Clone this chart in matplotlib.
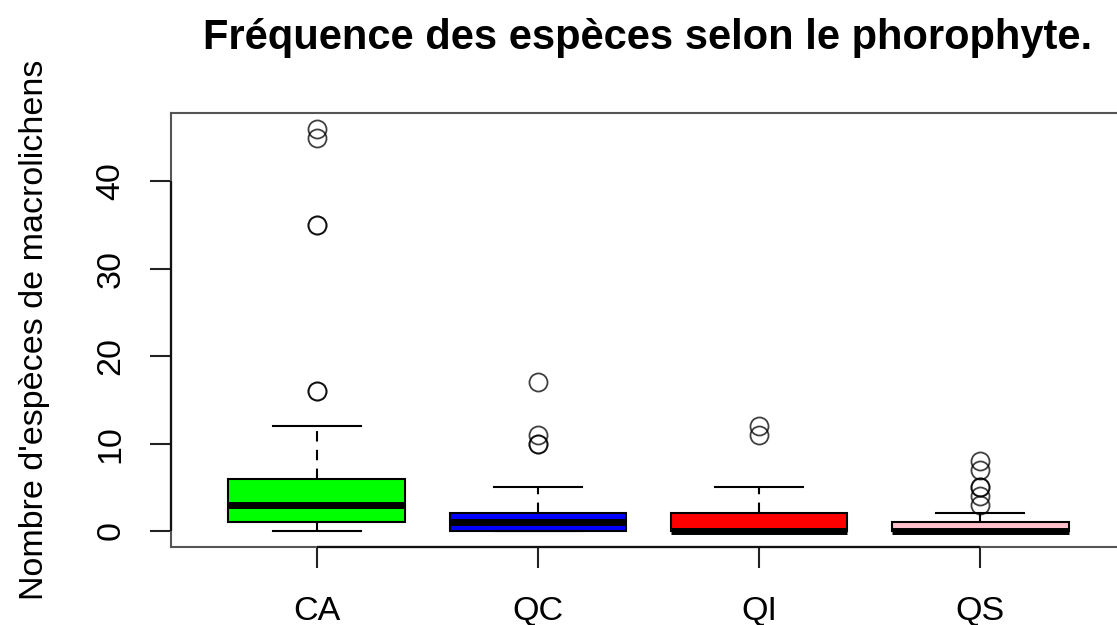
import matplotlib
matplotlib.use("Agg")
import matplotlib.pyplot as plt
import numpy as np

plt.rcParams['font.family'] = ['Liberation Sans', 'DejaVu Sans']

categories = ["CA", "QC", "QI", "QS"]
colors = ["#00ff00", "#0000ff", "#ff0000", "#ffc0cb"]

# five-number summaries per phorophyte: lower whisker, Q1, median, Q3, upper whisker
whislo = [0, 0, 0, 0]
q1 = [1, 0, 0, 0]
med = [3, 1, 0, 0]
q3 = [6, 2, 2, 1]
whishi = [12, 5, 5, 2]
outliers = [
    [16, 16, 35, 35, 45, 46],
    [10, 10, 11, 17],
    [11, 12],
    [3, 4, 5, 5, 7, 8],
]
yticks = [0, 10, 20, 30, 40]

stats = []
for i, c in enumerate(categories):
    stats.append(dict(label=c, whislo=whislo[i], q1=q1[i], med=med[i],
                      q3=q3[i], whishi=whishi[i], fliers=outliers[i]))

fig = plt.figure(figsize=(11.17, 6.25), dpi=100)
ax = fig.add_axes([171/1117, 1 - 547/625, (1126 - 171)/1117, (547 - 113)/625])

positions = [1, 2, 3, 4]
bp = ax.bxp(stats, positions=positions, widths=0.8, patch_artist=True,
            boxprops=dict(edgecolor="black", linewidth=1.5),
            medianprops=dict(color="black", linewidth=5, solid_capstyle="butt"),
            whiskerprops=dict(color="black", linewidth=1.5, linestyle=(0, (5, 4))),
            capprops=dict(color="black", linewidth=1.5),
            flierprops=dict(marker="o", markerfacecolor="none", markeredgecolor="black",
                            markersize=13, markeredgewidth=1.3, alpha=0.75))
for patch, col in zip(bp["boxes"], colors):
    patch.set_facecolor(col)
for cap in bp["caps"]:
    xd = cap.get_xdata()
    m = (xd[0] + xd[1]) / 2
    cap.set_xdata([m - 0.2, m + 0.2])

ymin, ymax = -1.84, 47.84
ax.set_xlim(0.34, 4.66)
ax.set_ylim(ymin, ymax)
ax.set_yticks(yticks)
ax.set_yticklabels([str(t) for t in yticks], rotation=90, va="center")
ax.set_xticks(positions)
ax.set_xticklabels(categories)
ax.tick_params(axis="both", labelsize=24.5, length=15, width=1.5, direction="out",
               color="#222222")
ax.tick_params(axis="x", pad=20)
ax.tick_params(axis="y", pad=17)
for s in ax.spines.values():
    s.set_linewidth(1.5)
    s.set_color("#555555")

# axis lines spanning the tick range, drawn over the frame
ax.plot([positions[0], positions[-1]], [ymin, ymin], color="#111111", lw=1.6,
        clip_on=False, solid_capstyle="butt", zorder=5)
ax.plot([0.34, 0.34], [yticks[0], yticks[-1]], color="#111111", lw=1.6,
        clip_on=False, solid_capstyle="butt", zorder=5)

ax.set_ylabel("Nombre d'espèces de macrolichens", fontsize=24.5, labelpad=33)
fig.text(648/1117, 1 - 38/625, "Fréquence des espèces selon le phorophyte.",
         ha="center", va="center", fontsize=30, fontweight="bold")

fig.savefig("out.png", dpi=100)
